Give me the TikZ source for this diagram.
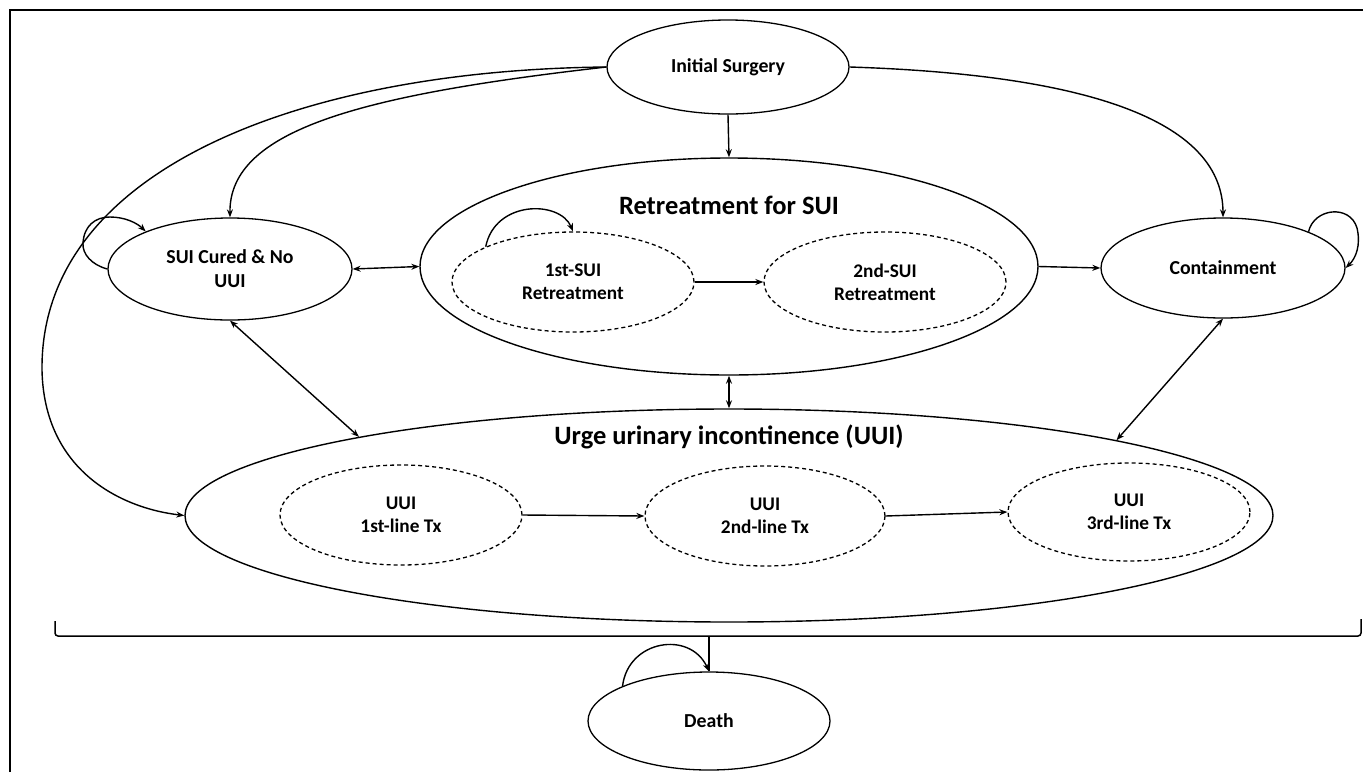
\documentclass[tikz,border=0pt]{standalone}
\usepackage{fontspec}
\setmainfont{Carlito}
\usetikzlibrary{shapes.geometric,arrows.meta}
\begin{document}
\begin{tikzpicture}[x=1pt,y=-1pt,
  state/.style={ellipse, draw, line width=1.3pt, inner sep=0pt, align=center,
     font=\fontsize{19.8}{24}\selectfont\bfseries},
  sub/.style={state, dash pattern=on 4pt off 3pt, font=\fontsize{19.3}{23}\selectfont\bfseries},
  big/.style={ellipse, draw, line width=1.4pt, inner sep=0pt},
  title/.style={font=\fontsize{26.5}{30}\selectfont\bfseries, inner sep=0pt},
  arr/.style={line width=1.4pt, -{Stealth[length=8pt,width=6pt]}},
  dbl/.style={line width=1.4pt, {Stealth[length=8pt,width=6pt]}-{Stealth[length=8pt,width=6pt]}},
  plain/.style={line width=1.5pt}
]
\useasboundingbox (0,0) rectangle (1363,772);
% frame
\draw[line width=1.8pt] (10,772) -- (10,10) -- (1363,10);

% nodes
\node[state, minimum width=242pt, minimum height=94pt] (IS) at (728,67) {Initial Surgery};
\node[big, minimum width=618pt, minimum height=217pt] (Ret) at (729,266.5) {};
\node[title] (RetT) at (729,205) {Retreatment for SUI};
\node[state, minimum width=244pt, minimum height=102pt] (SUI) at (230,269) {SUI Cured \& No\\UUI};
\node[state, minimum width=244pt, minimum height=100pt] (Cont) at (1223,268) {Containment};
\node[sub, minimum width=242pt, minimum height=100pt] (S1) at (573,282) {1st-SUI\\Retreatment};
\node[sub, minimum width=242pt, minimum height=100pt] (S2) at (885,282) {2nd-SUI\\Retreatment};
\node[big, minimum width=1088pt, minimum height=213pt] (UUI) at (729,515.5) {};
\node[title] (UUIT) at (729,437) {Urge urinary incontinence (UUI)};
\node[sub, minimum width=242pt, minimum height=100pt] (U1) at (401,515) {UUI\\1st-line Tx};
\node[sub, minimum width=240pt, minimum height=100pt] (U2) at (765,516) {UUI\\2nd-line Tx};
\node[sub, minimum width=242pt, minimum height=98pt] (U3) at (1129,512) {UUI\\3rd-line Tx};
\node[state, minimum width=242pt, minimum height=98pt] (Death) at (709,721) {Death};

% connectors from Initial Surgery
\draw[arr] (IS.south) -- (Ret.north);
\draw[arr] (IS.west) .. controls (360,95) and (229,130) .. (SUI.north);
\draw[arr] (IS.west) .. controls (300,70) and (40,170) .. (42,370)
   .. controls (44,470) and (120,508) .. (UUI.west);
\draw[arr] (IS.east) .. controls (1100,75) and (1223,125) .. (Cont.north);

% horizontal links
\draw[dbl] (SUI.east) -- (Ret.west);
\draw[arr] (Ret.east) -- (Cont.west);
\draw[arr] (S1.east) -- (S2.west);
\draw[arr] (U1.east) -- (U2.west);
\draw[arr] (U2.east) -- (U3.west);

% vertical / diagonal links
\draw[dbl] (Ret.south) -- (UUI.north);
\draw[dbl] (SUI.south) -- (UUI.168.6);
\draw[dbl] (Cont.south) -- (UUI.11.4);

% self loops
\draw[arr] (SUI.west) .. controls (92,265) and (82,254) .. (83,243)
   .. controls (84,226) and (95,217) .. (110,217)
   .. controls (125,217) and (137,223) .. (SUI.156);
\draw[arr] (S1.158) .. controls (495,200) and (560,200) .. (S1.north);
\draw[arr] (Cont.23) .. controls (1314,208) and (1350,204) .. (1357,228)
   .. controls (1361,245) and (1356,258) .. (Cont.east);
\draw[arr] (Death.158) .. controls (628,640) and (690,630) .. (Death.north);

% bracket to death
\coordinate (BrL) at (55,621);
\coordinate (BrR) at (1361,619);
\coordinate (BrM) at (709,636);
\draw[plain, rounded corners=3pt] (BrL) -- (55,636) -- (1361,636) -- (BrR);
\draw[plain] (BrM) -- (Death.north);
\end{tikzpicture}
\end{document}
